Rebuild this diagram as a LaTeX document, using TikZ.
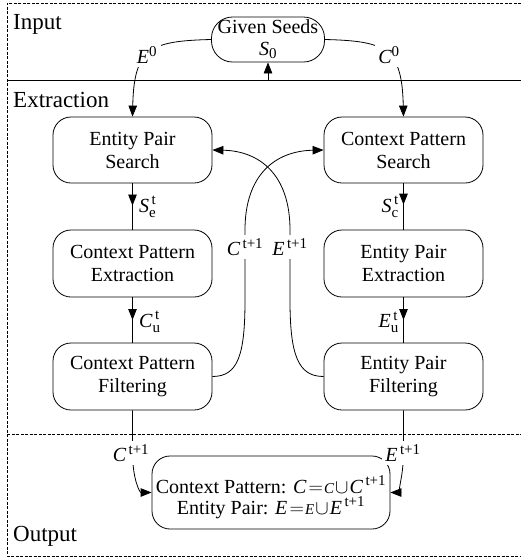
\RequirePackage{fix-cm}
\documentclass[tikz,border=0pt]{standalone}
\usepackage{amsmath}
\usepackage{fontspec}
\setmainfont{Liberation Serif}
\DeclareMathSizes{20}{20}{15}{12}
\usetikzlibrary{arrows.meta,calc}
\tikzset{
  box/.style={draw, line width=0.8pt, rounded corners=18pt, minimum width=159pt, minimum height=66pt, inner sep=0pt, align=center, font=\fontsize{20}{23}\selectfont},
  txt/.style={inner sep=0pt, align=center, font=\fontsize{20}{21}\selectfont},
  lab/.style={fill=white, inner sep=3.5pt, font=\fontsize{20}{23}\selectfont},
  conn/.style={line width=0.8pt, -{Triangle[length=11pt,width=8.5pt]}},
  plainline/.style={line width=0.8pt},
  framel/.style={line width=0.8pt, dash pattern=on 3pt off 1.5pt},
  sect/.style={anchor=base west, inner sep=0pt, font=\fontsize{23}{23}\selectfont},
  flab/.style={inner sep=0pt, font=\fontsize{20}{23}\selectfont},
}
\begin{document}
\begin{tikzpicture}[x=1pt,y=-1pt]
\useasboundingbox (0,0) rectangle (521,558);
% frame and separators
\draw[framel] (521,3) -- (7,3) -- (7,556) -- (521,556);
\draw[framel] (7,434) -- (521,434);
\draw[line width=0.9pt] (7,80) -- (521,80);
% section titles
\node[sect] (tin) at (13,29) {Input};
\node[sect] (tex) at (13,107) {Extraction};
\node[sect] (tout) at (13,541) {Output};
% nodes
\node[box, rounded corners=21pt, minimum width=113pt, minimum height=45pt, font=\fontsize{20}{22}\selectfont] (gs) at (268,39.5) {Given Seeds\\$\textit{S}_{\textup{0}}$};
\node[box] (eps) at (132.5,150) {Entity Pair\\Search};
\node[box] (cps) at (403.5,150) {Context Pattern\\Search};
\node[box, minimum height=67pt] (cpe) at (132.5,263.5) {Context Pattern\\Extraction};
\node[box, minimum height=67pt] (epe) at (403.5,263.5) {Entity Pair\\Extraction};
\node[box, minimum height=67pt] (cpf) at (132.5,376.5) {Context Pattern\\Filtering};
\node[box, minimum height=67pt] (epf) at (403.5,376.5) {Entity Pair\\Filtering};
\node[box, minimum width=238pt, minimum height=73pt] (out) at (271,492.5) {};
\node[txt] (outt) at (271,497) {Context Pattern: $\textit{C}\mkern2mu{=}\mkern1mu\textit{\fontsize{15}{15}\selectfont C}\mkern1mu{\cup}\mkern1mu\textit{C}^{\,\textup{t+1}}$\\Entity Pair: $\textit{E}\mkern2mu{=}\mkern1mu\textit{\fontsize{15}{15}\selectfont E}\mkern1mu{\cup}\mkern1mu\textit{E}^{\,\textup{t+1}}$};
% seeds input
\coordinate (sl) at (268,80);
\draw[conn] (sl) -- (gs.south);
\draw[conn] (gs.west) .. controls (150,41) and (134,48) .. (eps.north);
\draw[conn] (gs.east) .. controls (386,41) and (402,48) .. (cps.north);
\node[lab] (le0) at (147,55) {$\textit{E}^{\textup{0}}$};
\node[lab] (lc0) at (389,55) {$\textit{C}^{\textup{0}}$};
% vertical flows, arrowheads midway
\draw[plainline] (eps.south) -- (cpe.north);
\draw[plainline] (cps.south) -- (epe.north);
\draw[plainline] (cpe.south) -- (cpf.north);
\draw[plainline] (epe.south) -- (epf.north);
\draw[conn] (eps.south) -- ($(eps.south)!0.48!(cpe.north)$);
\draw[conn] (cps.south) -- ($(cps.south)!0.46!(epe.north)$);
\draw[conn] (cpe.south) -- ($(cpe.south)!0.5!(cpf.north)$);
\draw[conn] (epe.south) -- ($(epe.south)!0.5!(epf.north)$);
\node[flab, anchor=west] (lse) at (139,207) {$\textit{S}_{\textup{e}}^{\,\textup{t}}$};
\node[flab, anchor=east] (lsc) at (399,207) {$\textit{S}_{\textup{c}}^{\,\textup{t}}$};
\node[flab, anchor=west] (lcu) at (139,322) {$\textit{C}_{\textup{u}}^{\,\textup{t}}$};
\node[flab, anchor=east] (leu) at (399,322) {$\textit{E}_{\textup{u}}^{\,\textup{t}}$};
% feedback loops
\draw[conn] (cpf.east) .. controls (238,376.5) and (245,355) .. (245,300) -- node[lab,pos=0.757] (lct) {$\textit{C}^{\,\textup{t+1}}$} (245,230) .. controls (245,175) and (275,151) .. (cps.west);
\draw[conn] (epf.west) .. controls (298,376.5) and (290,355) .. (290,300) -- node[lab,pos=0.757] (let) {$\textit{E}^{\,\textup{t+1}}$} (290,230) .. controls (290,175) and (260,151) .. (eps.east);
% output
\draw[conn] (cpf.south) -- (132.5,452) .. controls (132.5,480) and (140,492.5) .. (out.west);
\draw[conn] (epf.south) -- (403.5,452) .. controls (403.5,480) and (396,492.5) .. (out.east);
\node[lab] (lco) at (131,453) {$\textit{C}^{\,\textup{t+1}}$};
\node[lab] (leo) at (403,453) {$\textit{E}^{\,\textup{t+1}}$};
\end{tikzpicture}
\end{document}
